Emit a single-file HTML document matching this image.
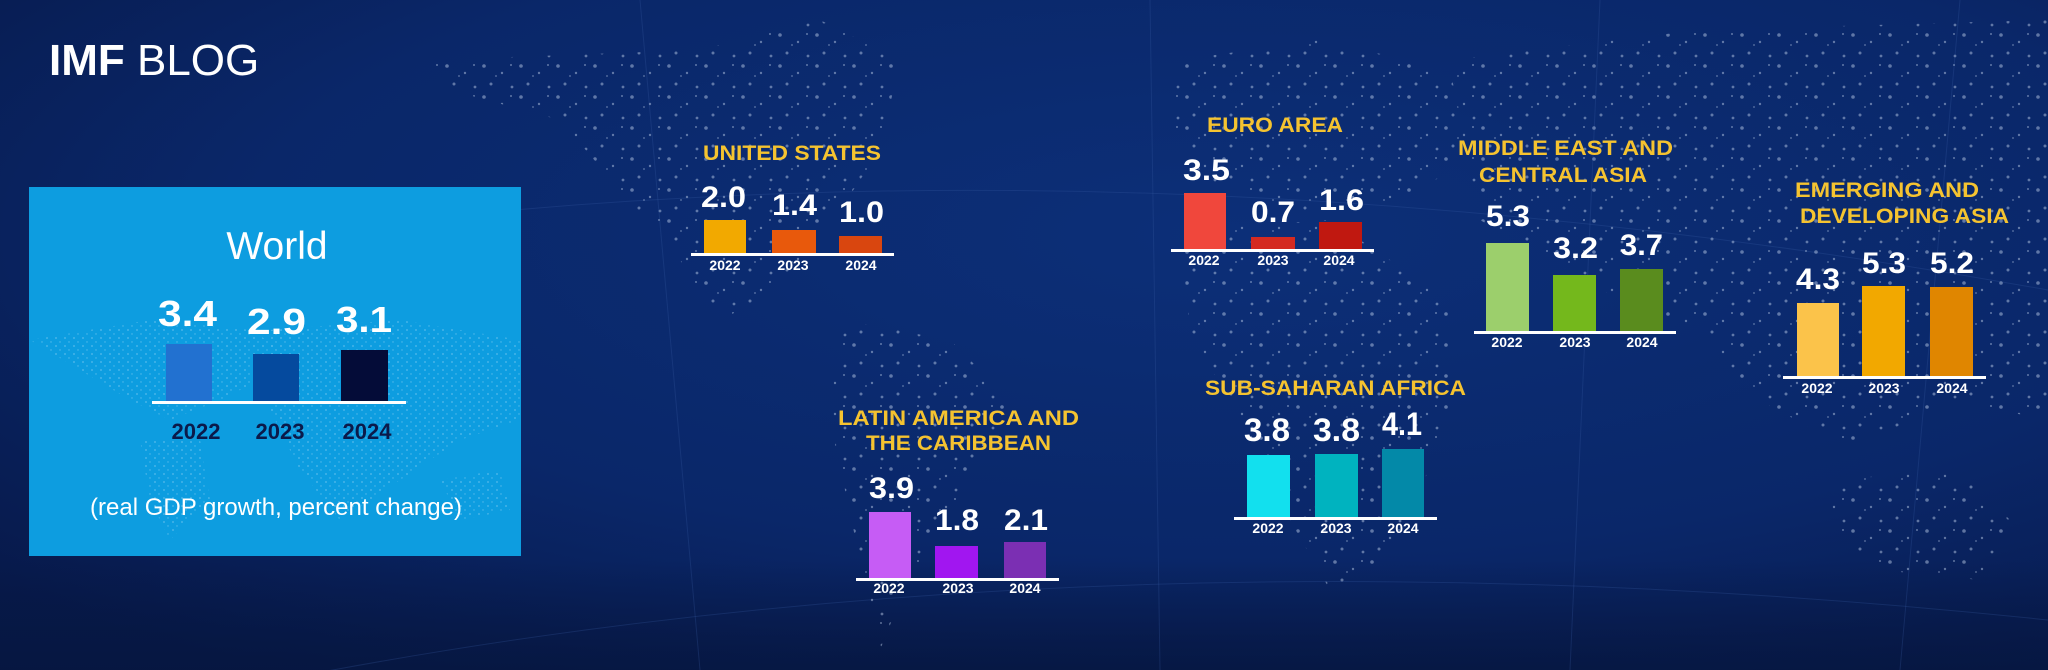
<!DOCTYPE html>
<html><head><meta charset="utf-8"><style>
html,body{margin:0;padding:0;width:2048px;height:670px;overflow:hidden;background:#0a2868;}
svg{display:block}
text{font-family:"Liberation Sans",Arial,sans-serif;}
</style></head><body>
<svg width="2048" height="670" viewBox="0 0 2048 670" xmlns="http://www.w3.org/2000/svg">
<defs>
<radialGradient id="bg" cx="0.6" cy="0.35" r="0.8">
<stop offset="0" stop-color="#0c2f78"/><stop offset="0.6" stop-color="#0a2769"/><stop offset="1" stop-color="#07194a"/>
</radialGradient>
<linearGradient id="bot" x1="0" y1="0" x2="0" y2="1">
<stop offset="0" stop-color="#06163f" stop-opacity="0"/><stop offset="1" stop-color="#06163f" stop-opacity="0.8"/>
</linearGradient>
<pattern id="dots" width="37" height="31" patternUnits="userSpaceOnUse">
<circle cx="3" cy="4" r="1.8" fill="#c8d8f0"/><circle cx="21" cy="11" r="1.2" fill="#c8d8f0"/><circle cx="10" cy="22" r="1.5" fill="#c8d8f0"/><circle cx="30" cy="3" r="1" fill="#c8d8f0"/><circle cx="31" cy="25" r="1.4" fill="#c8d8f0"/><circle cx="15" cy="14" r="0.9" fill="#c8d8f0"/>
</pattern>
<pattern id="wdots" width="9" height="8" patternUnits="userSpaceOnUse">
<circle cx="2" cy="2" r="0.9" fill="#e0f2ff"/><circle cx="6" cy="6" r="0.7" fill="#e0f2ff"/>
</pattern>
</defs>
<rect width="2048" height="670" fill="url(#bg)"/>
<rect y="560" width="2048" height="110" fill="url(#bot)"/>
<g stroke="#3a5fa8" stroke-opacity="0.25" stroke-width="1" fill="none">
<path d="M250 240 Q1100 120 2048 290"/><path d="M280 680 Q1100 520 2048 620"/>
<line x1="640" y1="0" x2="700" y2="670"/><line x1="1150" y1="0" x2="1160" y2="670"/><line x1="1600" y1="0" x2="1570" y2="670"/><line x1="1960" y1="0" x2="1900" y2="670"/>
</g>
<g fill="url(#dots)" opacity="0.45">
<path d="M430 60 L700 50 L820 20 L900 60 L880 150 L820 240 L760 300 L720 320 L680 260 L620 190 L560 120 L450 90 Z"/>
<path d="M840 320 L950 340 L1010 400 L960 500 L900 600 L880 650 L860 560 L830 420 Z"/>
<path d="M1180 60 L1320 40 L1450 70 L1470 160 L1400 200 L1300 210 L1200 180 L1170 120 Z"/>
<path d="M1180 230 L1330 220 L1450 300 L1450 420 L1390 560 L1330 590 L1290 520 L1240 420 L1190 330 Z"/>
<path d="M1450 60 L1700 30 L2048 20 L2048 420 L1950 400 L1850 450 L1760 400 L1700 330 L1620 300 L1480 220 Z"/>
<path d="M1830 480 L1960 470 L2010 520 L1980 580 L1880 570 L1830 530 Z"/>
</g>
<text x="49" y="75" font-size="44" fill="#fff"><tspan font-weight="bold">IMF</tspan><tspan font-weight="normal"> BLOG</tspan></text>
<rect x="29" y="187" width="492" height="369" fill="#0d9de0"/>
<g fill="url(#wdots)" opacity="0.35">
<path d="M30 340 L150 320 L250 330 L300 360 L220 400 L170 420 L130 400 L80 370 Z"/>
<path d="M140 440 L200 440 L210 500 L170 540 L150 500 Z"/>
<path d="M270 330 L400 320 L520 340 L520 420 L460 440 L400 480 L340 520 L300 470 L270 410 Z"/>
<path d="M440 480 L500 470 L510 510 L460 520 Z"/>
</g>
<text x="277" y="259" font-size="39" fill="#fff" text-anchor="middle">World</text>
<rect x="166" y="344" width="46" height="59" fill="#2271d0"/>
<rect x="253" y="354" width="46" height="49" fill="#054a9e"/>
<rect x="341" y="350" width="47" height="53" fill="#040c38"/>
<rect x="152" y="401" width="254" height="3" fill="#fff"/>
<g font-weight="bold" fill="#fff" font-size="36">
<text x="158" y="326" textLength="59" lengthAdjust="spacingAndGlyphs">3.4</text>
<text x="247" y="334" textLength="59" lengthAdjust="spacingAndGlyphs">2.9</text>
<text x="336" y="332" textLength="56" lengthAdjust="spacingAndGlyphs">3.1</text>
</g>
<g font-weight="bold" fill="#0b1a4a" font-size="22" text-anchor="middle">
<text x="196" y="439">2022</text><text x="280" y="439">2023</text><text x="367" y="439">2024</text>
</g>
<text x="276" y="515" font-size="24" fill="#fff" text-anchor="middle" textLength="372" lengthAdjust="spacingAndGlyphs">(real GDP growth, percent change)</text>

<g font-weight="bold" fill="#f5c330" font-size="21">
<text x="703" y="160" textLength="178" lengthAdjust="spacingAndGlyphs">UNITED STATES</text>
<text x="1207" y="132" textLength="136" lengthAdjust="spacingAndGlyphs">EURO AREA</text>
<text x="838" y="425" textLength="241" lengthAdjust="spacingAndGlyphs">LATIN AMERICA AND</text>
<text x="866" y="450" textLength="185" lengthAdjust="spacingAndGlyphs">THE CARIBBEAN</text>
<text x="1205" y="395" textLength="261" lengthAdjust="spacingAndGlyphs">SUB-SAHARAN AFRICA</text>
<text x="1458" y="155" textLength="215" lengthAdjust="spacingAndGlyphs">MIDDLE EAST AND</text>
<text x="1479" y="182" textLength="168" lengthAdjust="spacingAndGlyphs">CENTRAL ASIA</text>
<text x="1795" y="197" textLength="184" lengthAdjust="spacingAndGlyphs">EMERGING AND</text>
<text x="1800" y="223" textLength="209" lengthAdjust="spacingAndGlyphs">DEVELOPING ASIA</text>
</g>

<rect x="704" y="220" width="42" height="34" fill="#f2a900"/>
<rect x="772" y="230" width="44" height="24" fill="#e8590c"/>
<rect x="839" y="236" width="43" height="18" fill="#d9460f"/>
<rect x="691" y="253" width="203" height="3" fill="#fff"/>

<rect x="1184" y="193" width="42" height="57" fill="#f0473c"/>
<rect x="1251" y="237" width="44" height="13" fill="#d42a20"/>
<rect x="1319" y="222" width="43" height="28" fill="#c01810"/>
<rect x="1171" y="249" width="203" height="3" fill="#fff"/>

<rect x="869" y="512" width="42" height="67" fill="#c65cf5"/>
<rect x="935" y="546" width="43" height="33" fill="#a116f0"/>
<rect x="1004" y="542" width="42" height="37" fill="#7b2fb3"/>
<rect x="856" y="578" width="203" height="3" fill="#fff"/>

<rect x="1247" y="455" width="43" height="63" fill="#12e0ee"/>
<rect x="1315" y="454" width="43" height="64" fill="#00b3bf"/>
<rect x="1382" y="449" width="42" height="69" fill="#0389a8"/>
<rect x="1234" y="517" width="203" height="3" fill="#fff"/>

<rect x="1486" y="243" width="43" height="89" fill="#9ccf6c"/>
<rect x="1553" y="275" width="43" height="57" fill="#74b81c"/>
<rect x="1620" y="269" width="43" height="63" fill="#5a8c1e"/>
<rect x="1474" y="331" width="202" height="3" fill="#fff"/>

<rect x="1797" y="303" width="42" height="74" fill="#fbc34a"/>
<rect x="1862" y="286" width="43" height="91" fill="#f2a800"/>
<rect x="1930" y="287" width="43" height="90" fill="#e08600"/>
<rect x="1783" y="376" width="203" height="3" fill="#fff"/>

<g font-weight="bold" fill="#fff">
<g font-size="30">
<text x="701" y="207" textLength="45" lengthAdjust="spacingAndGlyphs">2.0</text>
<text x="772" y="215" textLength="45" lengthAdjust="spacingAndGlyphs">1.4</text>
<text x="839" y="222" textLength="45" lengthAdjust="spacingAndGlyphs">1.0</text>
<text x="1183" y="180" textLength="47" lengthAdjust="spacingAndGlyphs">3.5</text>
<text x="1251" y="222" textLength="44" lengthAdjust="spacingAndGlyphs">0.7</text>
<text x="1319" y="210" textLength="45" lengthAdjust="spacingAndGlyphs">1.6</text>
<text x="869" y="498" textLength="45" lengthAdjust="spacingAndGlyphs">3.9</text>
<text x="935" y="530" textLength="44" lengthAdjust="spacingAndGlyphs">1.8</text>
<text x="1004" y="530" textLength="44" lengthAdjust="spacingAndGlyphs">2.1</text>
<text x="1486" y="226" textLength="44" lengthAdjust="spacingAndGlyphs">5.3</text>
<text x="1553" y="258" textLength="45" lengthAdjust="spacingAndGlyphs">3.2</text>
<text x="1620" y="255" textLength="43" lengthAdjust="spacingAndGlyphs">3.7</text>
<text x="1796" y="289" textLength="44" lengthAdjust="spacingAndGlyphs">4.3</text>
<text x="1862" y="273" textLength="44" lengthAdjust="spacingAndGlyphs">5.3</text>
<text x="1930" y="273" textLength="44" lengthAdjust="spacingAndGlyphs">5.2</text>
</g>
<g font-size="32">
<text x="1244" y="441" textLength="46" lengthAdjust="spacingAndGlyphs">3.8</text>
<text x="1313" y="441" textLength="47" lengthAdjust="spacingAndGlyphs">3.8</text>
<text x="1382" y="435" textLength="40" lengthAdjust="spacingAndGlyphs">4.1</text>
</g>
<g font-size="14" text-anchor="middle">
<text x="725" y="270">2022</text><text x="793" y="270">2023</text><text x="861" y="270">2024</text>
<text x="1204" y="265">2022</text><text x="1273" y="265">2023</text><text x="1339" y="265">2024</text>
<text x="889" y="593">2022</text><text x="958" y="593">2023</text><text x="1025" y="593">2024</text>
<text x="1268" y="533">2022</text><text x="1336" y="533">2023</text><text x="1403" y="533">2024</text>
<text x="1507" y="347">2022</text><text x="1575" y="347">2023</text><text x="1642" y="347">2024</text>
<text x="1817" y="393">2022</text><text x="1884" y="393">2023</text><text x="1952" y="393">2024</text>
</g>
</g>
</svg>
</body></html>
